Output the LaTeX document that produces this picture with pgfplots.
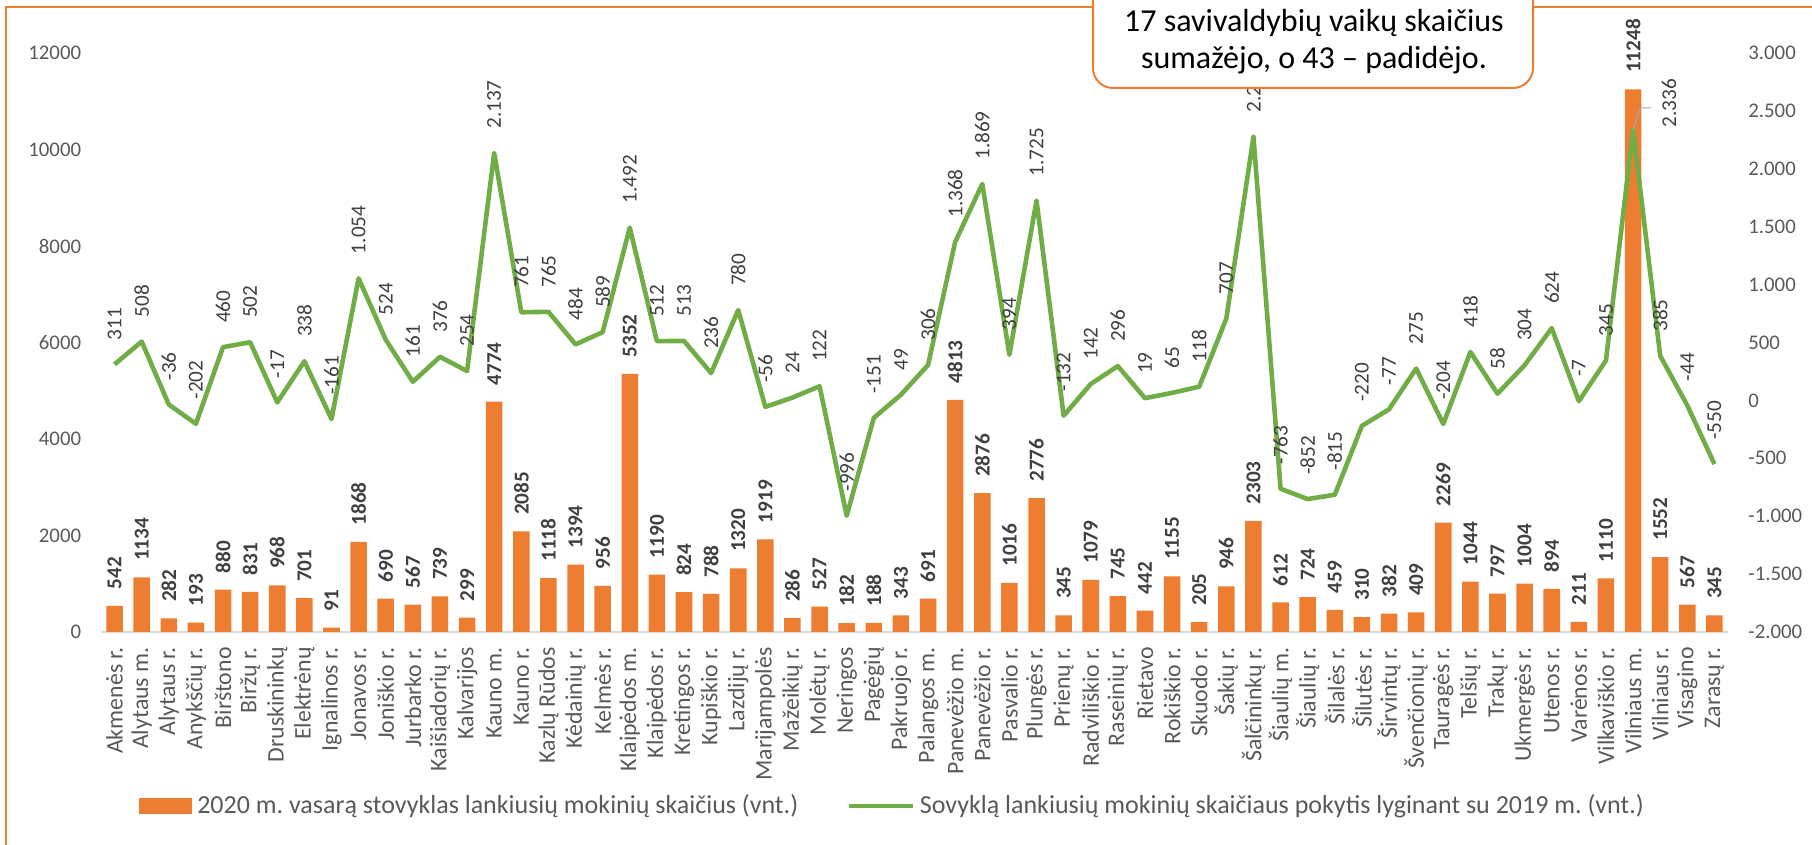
\documentclass[border=0pt]{standalone}
\usepackage{fontspec}
\setmainfont{Carlito}
\usepackage{graphicx}
\usepackage{pgfplots}
\usepackage{pgfplotstable}
\pgfplotsset{compat=1.18}
\definecolor{barorange}{HTML}{ED7D31}
\definecolor{linegreen}{HTML}{70AD47}
\definecolor{txtgray}{HTML}{595959}
\definecolor{lblgray}{HTML}{404040}
\definecolor{axgray}{HTML}{D9D9D9}
\definecolor{leadgray}{HTML}{A6A6A6}
\frenchspacing

\pgfplotstableread{
x bar chg dx dy
0 542 311 0 0
1 1134 508 0 0
2 282 -36 0 0
3 193 -202 0 0
4 880 460 0 0
5 831 502 0 0
6 968 -17 0 0
7 701 338 0 0
8 91 -161 0 0
9 1868 1054 0 0
10 690 524 0 0
11 567 161 0 0
12 739 376 0 0
13 299 254 0 0
14 4774 2137 0 0
15 2085 761 0 0
16 1118 765 0 0
17 1394 484 0 0
18 956 589 0 0
19 5352 1492 0 0
20 1190 512 0 0
21 824 513 0 0
22 788 236 0 0
23 1320 780 0 0
24 1919 -56 0 0
25 286 24 0 0
26 527 122 0 0
27 182 -996 0 0
28 188 -151 0 0
29 343 49 0 0
30 691 306 0 0
31 4813 1368 0 0
32 2876 1869 0 0
33 1016 394 0 0
34 2776 1725 0 0
35 345 -132 0 0
36 1079 142 0 0
37 745 296 0 0
38 442 19 0 0
39 1155 65 0 0
40 205 118 0 0
41 946 707 0 0
42 2303 2276 0 0
43 612 -763 0 0
44 724 -852 0 0
45 459 -815 0 0
46 310 -220 0 0
47 382 -77 0 0
48 409 275 0 0
49 2269 -204 0 0
50 1044 418 0 0
51 797 58 0 0
52 1004 304 0 0
53 894 624 0 0
54 211 -7 0 0
55 1110 345 0 0
56 11248 2336 18 -11
57 1552 385 0 0
58 567 -44 0 0
59 345 -550 0 0
}\data

\begin{document}
\begin{tikzpicture}
\useasboundingbox (0,0) rectangle (906pt,422.5pt);
\draw[barorange, line width=1pt] (2.85pt,-5pt) -- (2.85pt,418.85pt) -- (915pt,418.85pt);
\pgfplotsset{
  base/.style={
    at={(50.5pt,106.5pt)}, anchor=south west,
    width=813.5pt, height=289.5pt, scale only axis,
    xmin=-0.5, xmax=59.5, clip=false,
    major tick length=0pt,
    scaled y ticks=false,
    /pgf/number format/assume math mode=true,
  }
}
\begin{axis}[base,
  ymin=0, ymax=12000, ytick={0,2000,...,12000},
  axis x line*=bottom, axis y line*=left,
  x axis line style={draw=axgray, line width=1pt, -},
  y axis line style={draw=none},
  xtick={0,...,59},
  xticklabels={Akmenės r., Alytaus m., Alytaus r., Anykščių r., Birštono, Biržų r., Druskininkų, Elektrėnų, Ignalinos r., Jonavos r., Joniškio r., Jurbarko r., Kaišiadorių r., Kalvarijos, Kauno m., Kauno r., Kazlų Rūdos, Kėdainių r., Kelmės r., Klaipėdos m., Klaipėdos r., Kretingos r., Kupiškio r., Lazdijų r., Marijampolės, Mažeikių r., Molėtų r., Neringos, Pagėgių, Pakruojo r., Palangos m., Panevėžio m., Panevėžio r., Pasvalio r., Plungės r., Prienų r., Radviliškio r., Raseinių r., Rietavo, Rokiškio r., Skuodo r., Šakių r., Šalčininkų r., Šiaulių m., Šiaulių r., Šilalės r., Šilutės r., Širvintų r., Švenčionių r., Tauragės r., Telšių r., Trakų r., Ukmergės r., Utenos r., Varėnos r., Vilkaviškio r., Vilniaus m., Vilniaus r., Visagino, Zarasų r.},
  xticklabel style={rotate=90, anchor=east, inner xsep=7.5pt, inner ysep=0pt, font=\fontsize{11.9}{12}\selectfont, text=txtgray},
  yticklabel style={inner xsep=9.75pt, font=\fontsize{10.4}{12}\selectfont, text=txtgray},
  /pgf/number format/1000 sep={},
  ybar, bar width=0.61,
]
\addplot[fill=barorange, draw=none,
  nodes near coords={\rotatebox{90}{\bfseries\pgfmathprintnumber{\pgfplotspointmeta}}},
  every node near coord/.append style={anchor=south, inner ysep=8pt, inner xsep=0pt, font=\fontsize{10.6}{12}\selectfont, text=lblgray}
] table[x=x,y=bar] {\data};
\end{axis}
\begin{axis}[base,
  ymin=-2000, ymax=3000, ytick={-2000,-1500,...,3000},
  hide x axis, axis y line*=right, y axis line style={draw=none},
  yticklabel style={inner xsep=10pt, font=\fontsize{10.4}{12}\selectfont, text=txtgray},
  /pgf/number format/1000 sep={.},
  legend style={at={(axis description cs:0.0234,-0.3005)}, anchor=west, draw=none, fill=none, inner sep=0pt,
    font=\fontsize{13}{15}\selectfont, text=txtgray, legend columns=2,
    /tikz/every odd column/.append style={column sep=2.5pt},
    /tikz/every even column/.append style={column sep=24pt},
    nodes={inner sep=0pt}},
  legend cell align=left,
]
\addlegendimage{legend image code/.code={\fill[barorange] (0pt,-3.75pt) rectangle (26pt,3.75pt);}}
\addlegendentry{2020 m. vasarą stovyklas lankiusių mokinių skaičius (vnt.)}
\addlegendimage{legend image code/.code={\draw[linegreen, line width=2.3pt] (0pt,0pt) -- (32pt,0pt);}}
\addlegendentry{Sovyklą lankiusių mokinių skaičiaus pokytis lyginant su 2019 m. (vnt.)}
\addplot[linegreen, line width=2.3pt, line join=round, forget plot,
  visualization depends on={\thisrow{dx}\as\dx},
  visualization depends on={\thisrow{dy}\as\dy},
  nodes near coords={\rotatebox{90}{\pgfmathprintnumber{\pgfplotspointmeta}}},
  every node near coord/.append style={anchor=south, xshift={\dx*1pt}, yshift={\dy*1pt}, inner ysep=11pt, inner xsep=0pt, font=\fontsize{10.6}{12}\selectfont, text=lblgray}
] table[x=x,y=chg] {\data};
\draw[leadgray, line width=0.6pt] (axis cs:56,2336) -- ++(3.5pt,11pt) -- ++(5.5pt,0pt);
\end{axis}
\draw[barorange, line width=1pt, fill=white, rounded corners=10pt] (546.5pt,378.5pt) rectangle (766.5pt,440pt);
\node[align=center, font=\fontsize{16}{18.5}\selectfont, text=black] at (657pt,401.75pt) {17 savivaldybių vaikų skaičius\\sumažėjo, o 43 – padidėjo.};
\end{tikzpicture}
\end{document}
